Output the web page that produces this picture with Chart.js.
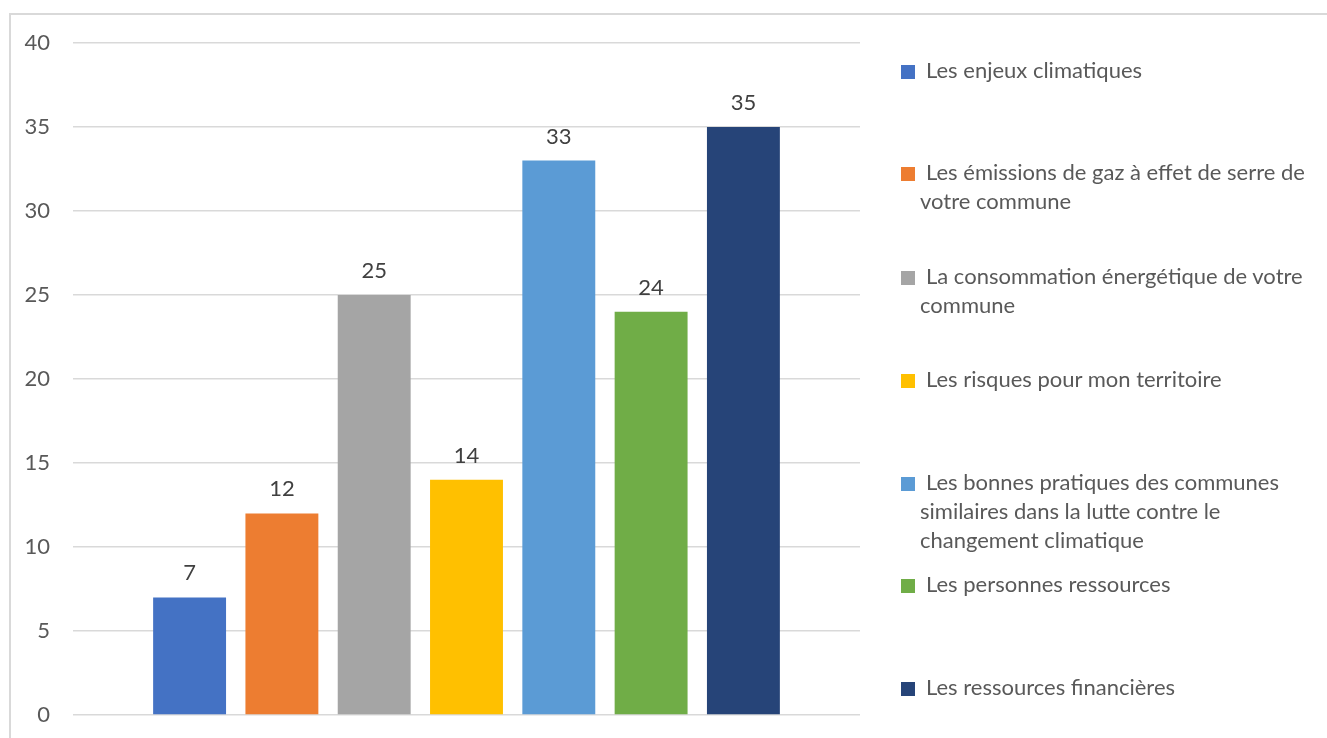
<!DOCTYPE html>
<html lang="fr">
<head>
<meta charset="utf-8">
<title>Besoins d'information</title>
<script src="https://cdn.jsdelivr.net/npm/chart.js@4/dist/chart.umd.min.js"></script>
<style>
    html, body {
        margin: 0;
        padding: 0;
        background: #fff;
    }
    #wrap {
        position: relative;
        width: 1327px;
        height: 738px;
        overflow: hidden;
        font-family: Lato, "Noto Sans", sans-serif;
    }
    #frame {
        position: absolute;
        left: 9px;
        top: 13px;
        width: 1400px;
        height: 800px;
        border-top: 2px solid #d9d9d9;
        border-left: 2px solid #d9d9d9;
    }
    #chart {
        position: absolute;
        left: 0;
        top: 0;
    }
    #legend {
        position: absolute;
        left: 901px;
        top: 0;
        width: 420px;
        margin: 0;
        padding: 0;
        list-style: none;
    }
    #legend li {
        position: absolute;
        left: 0;
        width: 400px;
        padding-left: 19px;
        text-indent: -19px;
        font-size: 22px;
        line-height: 29px;
        color: #595959;
    }
    #legend .sw {
        display: inline-block;
        width: 14px;
        height: 14px;
        margin-right: 11px;
        vertical-align: -1px;
    }
</style>
</head>
<body>
<div id="wrap">
    <div id="frame"></div>
    <canvas id="chart" width="1327" height="738"></canvas>
    <ul id="legend"></ul>
</div>
<script>
const seriesNames = [
    'Les enjeux climatiques',
    'Les émissions de gaz à effet de serre de votre commune',
    'La consommation énergétique de votre commune',
    'Les risques pour mon territoire',
    'Les bonnes pratiques des communes similaires dans la lutte contre le changement climatique',
    'Les personnes ressources',
    'Les ressources financières',
];
const seriesValues = [7, 12, 25, 14, 33, 24, 35];
const seriesColors = ['#4472C4', '#ED7D31', '#A5A5A5', '#FFC000', '#5B9BD5', '#70AD47', '#264478'];
const yTicks = [0, 5, 10, 15, 20, 25, 30, 35, 40];

// first-line centre of each legend entry
const legendRows = [69, 171, 275, 378, 481, 583, 686];

const FONT = 'Lato, "Noto Sans", sans-serif';

const valueLabels = {
    id: 'valueLabels',
    afterDatasetsDraw(chart) {
        const ctx = chart.ctx;
        ctx.save();
        ctx.font = `22px ${FONT}`;
        ctx.fillStyle = '#404040';
        ctx.textAlign = 'center';
        ctx.textBaseline = 'alphabetic';
        chart.data.datasets.forEach((ds, i) => {
            const bar = chart.getDatasetMeta(i).data[0];
            ctx.fillText(String(ds.data[0]), bar.x, bar.y - 17);
        });
        ctx.restore();
    },
};

const htmlLegend = {
    id: 'htmlLegend',
    afterUpdate(chart) {
        const list = document.getElementById('legend');
        list.innerHTML = '';
        const items = chart.options.plugins.legend.labels.generateLabels(chart);
        items.forEach((item, i) => {
            const li = document.createElement('li');
            li.style.top = (legendRows[i] - 14.5) + 'px';
            const sw = document.createElement('span');
            sw.className = 'sw';
            sw.style.background = item.fillStyle;
            li.appendChild(sw);
            li.appendChild(document.createTextNode(item.text));
            list.appendChild(li);
        });
    },
};

const canvas = document.getElementById('chart');

new Chart(canvas, {
    type: 'bar',
    data: {
        labels: [''],
        datasets: seriesNames.map((name, i) => ({
            label: name,
            data: [seriesValues[i]],
            backgroundColor: seriesColors[i],
            borderWidth: 0,
        })),
    },
    options: {
        responsive: false,
        animation: false,
        categoryPercentage: 0.821,
        barPercentage: 0.79,
        layout: {
            padding: { top: 43, right: 467, bottom: 23, left: 0 },
        },
        plugins: {
            legend: { display: false },
            tooltip: { enabled: false },
        },
        scales: {
            x: {
                display: false,
            },
            y: {
                min: 0,
                max: 40,
                afterBuildTicks(scale) {
                    scale.ticks = yTicks.map((v) => ({ value: v }));
                },
                afterFit(scale) {
                    scale.width = 73;
                    // the layout padding already leaves room for the end labels
                    scale.paddingTop = 0;
                    scale.paddingBottom = 0;
                },
                border: { display: false },
                grid: {
                    color: '#d9d9d9',
                    lineWidth: 1.5,
                    drawTicks: false,
                },
                ticks: {
                    padding: 23,
                    color: '#595959',
                    font: { family: FONT, size: 22 },
                },
            },
        },
    },
    plugins: [valueLabels, htmlLegend],
});
</script>
</body>
</html>
